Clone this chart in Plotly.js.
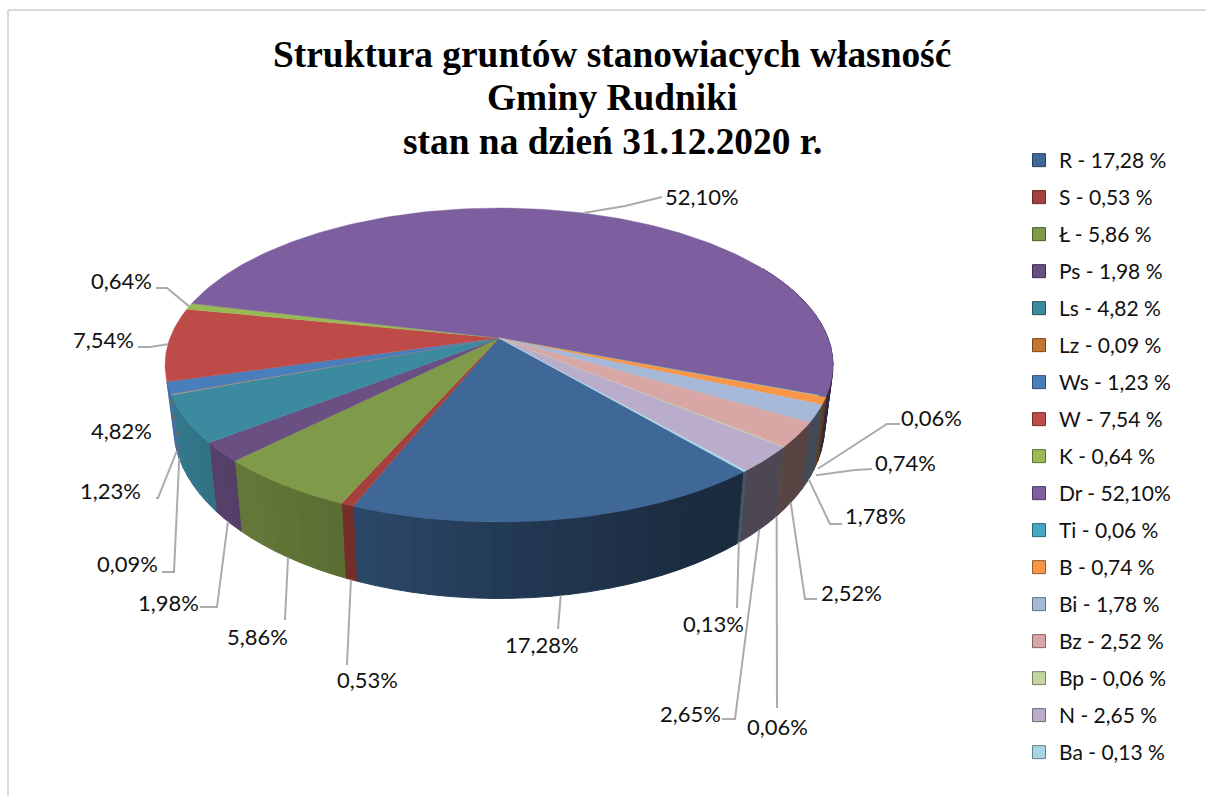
<!DOCTYPE html>
<html><head><meta charset="utf-8">
<script src="https://cdn.plot.ly/plotly-3.0.1.min.js"></script>
<style>html,body{margin:0;padding:0;background:#fff}#chart{width:1206px;height:796px}</style>
</head><body><div id="chart"></div>
<script>
// ---- data ----
const categories = ['R','S','Ł','Ps','Ls','Lz','Ws','W','K','Dr','Ti','B','Bi','Bz','Bp','N','Ba'];
const shares = [17.28,0.53,5.86,1.98,4.82,0.09,1.23,7.54,0.64,52.10,0.06,0.74,1.78,2.52,0.06,2.65,0.13];
const legendLabels = ['R - 17,28 %','S - 0,53 %','Ł - 5,86 %','Ps - 1,98 %','Ls - 4,82 %','Lz - 0,09 %','Ws - 1,23 %','W - 7,54 %','K - 0,64 %','Dr - 52,10%','Ti - 0,06 %','B - 0,74 %','Bi - 1,78 %','Bz - 2,52 %','Bp - 0,06 %','N - 2,65 %','Ba - 0,13 %'];
const titleLines = ['Struktura gruntów stanowiacych własność','Gminy Rudniki','stan na dzień 31.12.2020 r.'];
// ---- styles ----
const topColors = ['#3F6797','#A5413C','#7F9A48','#694F82','#3C8AA0','#C4752F','#4A7EBB','#BE4B48','#98B954','#7D5FA0','#46AAC5','#F79646','#A5B8D8','#D8A6A5','#C4D6A0','#B9ADCB','#A9D6E5'];
const labelCentres = [[542,644],[367,679],[257,636],[168,602],[121,430],[127,563],[110,490],[103,339],[121,280],[702,196],[931,417],[905,462],[875,515],[851,592],[777,726],[690,713],[713,623]];
// leader way-points from the label towards the pie (the pie end is computed); null = no leader
const leaderPaths = [[[558,629]],[[347,665]],[[285,620]],[[200,607],[217,607]],null,[[162,572],[174,572]],[[156,498],[158,498]],[[138,347],[150,347]],[[156,288],[167,288]],[[662,197],[625,206]],[[900,424],[887,424]],[[872,469],[855,470]],[[842,524],[830,524]],[[817,599],[805,599]],[[777,708]],[[722,719],[735,719]],[[737,608]]];
// small vertical nudge of a leader's pie end, where the anchor sits lower on the wall
const leaderEndNudge = [0,0,0,0,0,0,0,0,0,0,8,10,0,0,0,0,0];
// ---- projection of the tilted disc into the page ----
const C = {x:499,y:338,rx:329,ry:152.4,persp:0.172,startDeg:139.7};
const LOW = {sx:0.975,sy:1.1,dy:58};
function rimTop(deg){const a=deg*Math.PI/180,u=Math.sin(a),v=-Math.cos(a),w=1-C.persp*v;
  return [C.x+C.rx*u/w, C.y+C.ry*v/w];}
function low(p){return [C.x+LOW.sx*(p[0]-C.x), C.y+LOW.dy+LOW.sy*(p[1]-C.y)];}
function shade(x){const s=[[165,.88],[240,.78],[350,.70],[500,.56],[700,.42],[840,.40]];
  for(let i=1;i<s.length;i++) if(x<=s[i][0]){const t=(x-s[i-1][0])/(s[i][0]-s[i-1][0]);return s[i-1][1]+Math.max(t,0)*(s[i][1]-s[i-1][1]);}
  return .40;}
function mul(hex,f){const n=parseInt(hex.slice(1),16);return 'rgb('+[(n>>16)&255,(n>>8)&255,n&255].map(c=>Math.round(c*f)).join(',')+')';}
const total = shares.reduce((a,b)=>a+b,0);
let cum=0;
const spans = shares.map(s=>{const a=C.startDeg+cum/total*360;cum+=s;return [a,C.startDeg+cum/total*360];});
const base={type:'scatter',mode:'lines',fill:'toself',hoverinfo:'skip',showlegend:false};
const traces=[];
// side wall strips
spans.forEach(([s,e],i)=>{
  const n=Math.max(1,Math.ceil((e-s)/3));
  for(let k=0;k<n;k++){
    const b0=s+(e-s)*k/n,b1=s+(e-s)*(k+1)/n;
    const m=((b0+b1)/2)%360;
    if(m<60||m>255) continue;
    const p0=rimTop(b0),p1=rimTop(b1),q0=low(p0),q1=low(p1);
    const col=mul(topColors[i],shade((p0[0]+p1[0])/2));
    traces.push(Object.assign({},base,{x:[p0[0],p1[0],q1[0],q0[0],p0[0]],y:[p0[1],p1[1],q1[1],q0[1],p0[1]],fillcolor:col,line:{color:col,width:1}}));
  }
});
// top faces
spans.forEach(([a0,a1],i)=>{
  const xs=[C.x],ys=[C.y];
  const n=Math.max(2,Math.ceil(a1-a0));
  for(let k=0;k<=n;k++){const p=rimTop(a0+(a1-a0)*k/n);xs.push(p[0]);ys.push(p[1]);}
  xs.push(C.x);ys.push(C.y);
  traces.push(Object.assign({},base,{x:xs,y:ys,fillcolor:topColors[i],line:{color:topColors[i],width:.4}}));
});
// leaders
const lx=[],ly=[];
spans.forEach(([a0,a1],i)=>{
  const path=leaderPaths[i]; if(!path) return;
  const m=(a0+a1)/2, a=m*Math.PI/180, p=rimTop(m);
  const end=(-Math.cos(a)>0.2)?low(p):p;
  path.forEach(q=>{lx.push(q[0]);ly.push(q[1]);});
  lx.push(end[0],null);ly.push(end[1]+leaderEndNudge[i],null);
});
traces.push({type:'scatter',mode:'lines',x:lx,y:ly,hoverinfo:'skip',showlegend:false,line:{color:'#ABABAB',width:2}});
// legend entries
categories.forEach((c,i)=>traces.push({type:'scatter',mode:'markers',x:[null],y:[null],name:legendLabels[i],legendgroup:c,showlegend:true,
  marker:{symbol:'square',size:13,color:topColors[i],line:{color:mul(topColors[i],.6),width:1}}}));
const annotations=titleLines.map((t,i)=>({xref:'x',yref:'y',x:612,y:[54,97,141][i],text:'<b>'+t+'</b>',showarrow:false,xanchor:'center',yanchor:'middle',
  font:{family:'"Liberation Serif",serif',size:37.4,color:'#000'}}));
shares.forEach((v,i)=>annotations.push({xref:'x',yref:'y',x:labelCentres[i][0],y:labelCentres[i][1],text:v.toFixed(2).replace('.',',')+'%',showarrow:false,xanchor:'center',yanchor:'middle',
  font:{family:'Lato,sans-serif',size:22,color:'#111'}}));
const layout={width:1206,height:796,margin:{l:0,r:0,t:0,b:0},paper_bgcolor:'#fff',plot_bgcolor:'#fff',
  xaxis:{range:[0,1206],visible:false,fixedrange:true},
  yaxis:{range:[796,0],visible:false,fixedrange:true},
  showlegend:true,
  legend:{x:1019/1206,y:1-140/796,xanchor:'left',yanchor:'top',traceorder:'grouped',tracegroupgap:6.7,font:{family:'Lato,sans-serif',size:21,color:'#111'},bgcolor:'rgba(0,0,0,0)'},
  annotations,
  shapes:[{type:'line',xref:'x',yref:'y',x0:8,x1:8,y0:10,y1:796,line:{color:'#D9D9D9',width:2}},
          {type:'line',xref:'x',yref:'y',x0:8,x1:1206,y0:10,y1:10,line:{color:'#D9D9D9',width:2}}]};
Plotly.newPlot('chart',traces,layout,{displayModeBar:false,staticPlot:true});
</script></body></html>
